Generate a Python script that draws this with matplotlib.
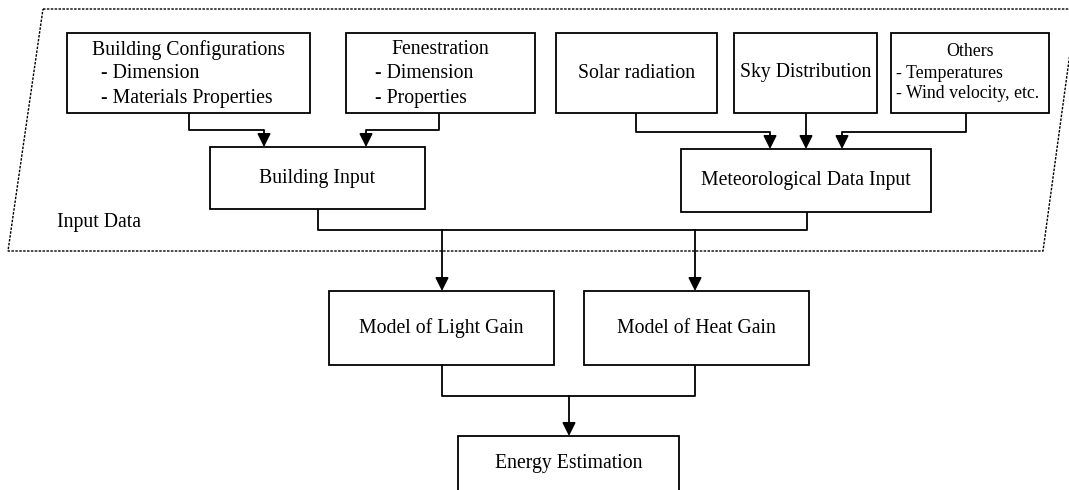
import matplotlib.pyplot as plt
from matplotlib.patches import Rectangle, Polygon

plt.rcParams['font.family'] = ['Liberation Serif', 'DejaVu Serif']

# box texts
source_titles = ['Building Configurations', 'Fenestration', 'Solar radiation', 'Sky Distribution', 'Others']
source_items = [['- Dimension', '- Materials Properties'],
                ['- Dimension', '- Properties'],
                [], [],
                ['- Temperatures', '- Wind velocity, etc.']]
input_labels = ['Building Input', 'Meteorological Data Input']
model_labels = ['Model of Light Gain', 'Model of Heat Gain']
output_label = 'Energy Estimation'
group_label = 'Input Data'

# layout in pixels (x0, y0, x1, y1), y down
src_boxes = [(67, 33, 310, 113), (346, 33, 535, 113), (556, 33, 717, 113),
             (734, 33, 877, 113), (891, 33, 1049, 113)]
inp_boxes = [(210, 147, 425, 209), (681, 149, 931, 212)]
mod_boxes = [(329, 291, 554, 365), (584, 291, 809, 365)]
out_box = (458, 436, 679, 500)

fig = plt.figure(figsize=(10.69, 4.90), dpi=100)
ax = fig.add_axes([0, 0, 1, 1])
ax.set_xlim(0, 1069)
ax.set_ylim(490, 0)
ax.axis('off')

LW = 1.3
FS = 14.2
FS_SMALL = 12.8

# dashed parallelogram around inputs
ax.add_patch(Polygon([(43, 9), (1076, 9), (1043, 251), (8, 251)], closed=True,
                     fill=False, lw=1.0, ls=(0, (1.8, 1.0)), color='black', clip_on=True))


def box(b):
    x0, y0, x1, y1 = b
    ax.add_patch(Rectangle((x0, y0), x1 - x0, y1 - y0, fill=True, fc='white',
                           ec='black', lw=LW, zorder=3))


def line(pts):
    xs, ys = zip(*pts)
    ax.plot(xs, ys, color='black', lw=LW, solid_capstyle='butt', zorder=2)


def arrow(x, y0, y1):
    ax.annotate('', xy=(x, y1), xytext=(x, y0),
                arrowprops=dict(arrowstyle='-|>', color='black', lw=LW,
                                mutation_scale=20, shrinkA=0, shrinkB=0), zorder=2)


# source boxes
for b, title, items in zip(src_boxes, source_titles, source_items):
    box(b)
    cx = (b[0] + b[2]) / 2
    cy = (b[1] + b[3]) / 2
    if not items:
        ax.text(cx, cy, title, ha='center', va='center', fontsize=FS, zorder=4)
    elif title == 'Others':
        ax.text(cx, 52, title, ha='center', va='center', fontsize=FS_SMALL, zorder=4)
        for i, it in enumerate(items):
            ax.text(b[0] + 5, 73 + 21 * i, it, ha='left', va='center', fontsize=FS_SMALL, zorder=4)
    else:
        ax.text(cx, 50, title, ha='center', va='center', fontsize=FS, zorder=4)
        left = 101 if title.startswith('Building') else 375
        for i, it in enumerate(items):
            ax.text(left, 74 + 24 * i, it, ha='left', va='center', fontsize=FS, zorder=4)

for b, lab in zip(inp_boxes, input_labels):
    box(b)
    ax.text((b[0] + b[2]) / 2, (b[1] + b[3]) / 2, lab, ha='center', va='center', fontsize=FS, zorder=4)
for b, lab in zip(mod_boxes, model_labels):
    box(b)
    ax.text((b[0] + b[2]) / 2, (b[1] + b[3]) / 2, lab, ha='center', va='center', fontsize=FS, zorder=4)
box(out_box)
ax.text((out_box[0] + out_box[2]) / 2, 463, output_label, ha='center', va='center', fontsize=FS, zorder=4)

ax.text(57, 222, group_label, ha='left', va='center', fontsize=FS)

# connectors: sources -> inputs
line([(189, 113), (189, 130), (264, 130)])
arrow(264, 130, 147)
line([(439, 113), (439, 130), (366, 130)])
arrow(366, 130, 147)
line([(636, 113), (636, 132), (770, 132)])
arrow(770, 132, 149)
arrow(806, 113, 149)
line([(966, 113), (966, 132), (842, 132)])
arrow(842, 132, 149)

# inputs -> models
line([(318, 209), (318, 230), (807, 230), (807, 212)])
arrow(442, 230, 291)
arrow(695, 230, 291)

# models -> energy
line([(442, 365), (442, 396), (695, 396), (695, 365)])
arrow(569, 396, 436)

plt.savefig('out.png', dpi=100)
